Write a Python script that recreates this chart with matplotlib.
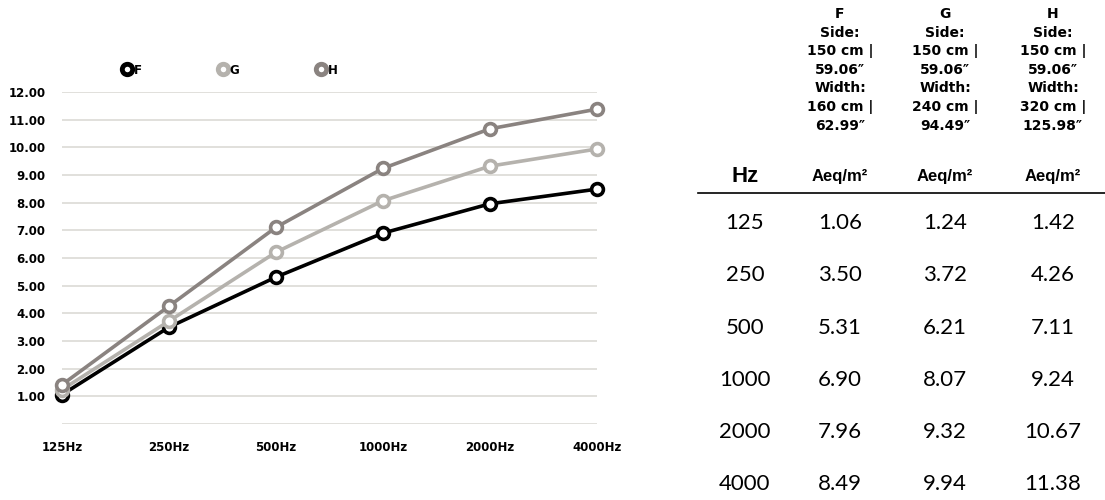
import matplotlib
matplotlib.use('Agg')
import matplotlib.pyplot as plt
from matplotlib.lines import Line2D

# data
freqs = ['125Hz', '250Hz', '500Hz', '1000Hz', '2000Hz', '4000Hz']
hz_rows = ['125', '250', '500', '1000', '2000', '4000']
series_names = ['F', 'G', 'H']
F = [1.06, 3.50, 5.31, 6.90, 7.96, 8.49]
G = [1.24, 3.72, 6.21, 8.07, 9.32, 9.94]
H = [1.42, 4.26, 7.11, 9.24, 10.67, 11.38]
headers = ['F\nSide:\n150 cm |\n59.06\u2033\nWidth:\n160 cm |\n62.99\u2033',
           'G\nSide:\n150 cm |\n59.06\u2033\nWidth:\n240 cm |\n94.49\u2033',
           'H\nSide:\n150 cm |\n59.06\u2033\nWidth:\n320 cm |\n125.98\u2033']
yticks = [1, 2, 3, 4, 5, 6, 7, 8, 9, 10, 11, 12]

colors = ['#000000', '#b5b2ad', '#8a8380']

W, Hh = 1105, 500
fig = plt.figure(figsize=(11.05, 5), dpi=100)
ax = fig.add_axes([62 / W, 1 - 424 / Hh, 535 / W, 332 / Hh])

x = list(range(len(freqs)))
for vals, c in zip([F, G, H], colors):
    ax.plot(x, vals, color=c, lw=2.6, marker='o', markersize=8.5,
            markerfacecolor='white', markeredgecolor=c, markeredgewidth=2.6,
            clip_on=False, zorder=3)

ax.set_xlim(0, 5)
ax.set_ylim(0, 12)
ax.set_xticks(x)
ax.set_xticklabels(freqs)
ax.set_yticks([0] + yticks)
ax.set_yticklabels([''] + ['%.2f' % v for v in yticks])
ax.tick_params(length=0, labelsize=8.5)
ax.tick_params(axis='x', pad=12)
ax.tick_params(axis='y', pad=12)
for lab in ax.get_xticklabels() + ax.get_yticklabels():
    lab.set_fontweight('bold')
ax.grid(axis='y', color='#dcdad5', lw=1.2)
ax.set_axisbelow(True)
for s in ax.spines.values():
    s.set_visible(False)

handles = [Line2D([], [], color=c, lw=0, marker='o', markersize=7.5,
                  markerfacecolor='white', markeredgecolor=c, markeredgewidth=3.5)
           for c in colors]
leg = fig.legend(handles, series_names, ncol=3, frameon=False,
                 loc='center left', bbox_to_anchor=(112 / W, 1 - 70 / Hh),
                 handlelength=0.8, handletextpad=0.15, columnspacing=6.5,
                 prop={'weight': 'bold', 'size': 8.5})

# table on the right
col_x = [840, 945, 1053]
hz_x = 745
for cx, h in zip(col_x, headers):
    fig.text(cx / W, 1 - 7 / Hh, h, ha='center', va='top', fontsize=10,
             fontweight='bold', linespacing=1.42)
fig.text(hz_x / W, 1 - 177 / Hh, 'Hz', ha='center', va='center', fontsize=16,
         fontweight='bold', family='Liberation Sans')
for cx in col_x:
    fig.text(cx / W, 1 - 177 / Hh, 'Aeq/m\u00b2', ha='center', va='center',
             fontsize=12, fontweight='bold', family='Liberation Sans')
fig.add_artist(Line2D([698 / W, 1], [1 - 193 / Hh] * 2, color='black', lw=1.2))

row_y = [223, 275, 328, 380, 432, 484]
for i, ry in enumerate(row_y):
    fig.text(hz_x / W, 1 - ry / Hh, hz_rows[i], ha='center', va='center',
             fontsize=16, family='Lato')
    for cx, vals in zip(col_x, [F, G, H]):
        fig.text(cx / W, 1 - ry / Hh, '%.2f' % vals[i], ha='center', va='center',
                 fontsize=16, family='Lato')

fig.savefig('out.png', dpi=100)
